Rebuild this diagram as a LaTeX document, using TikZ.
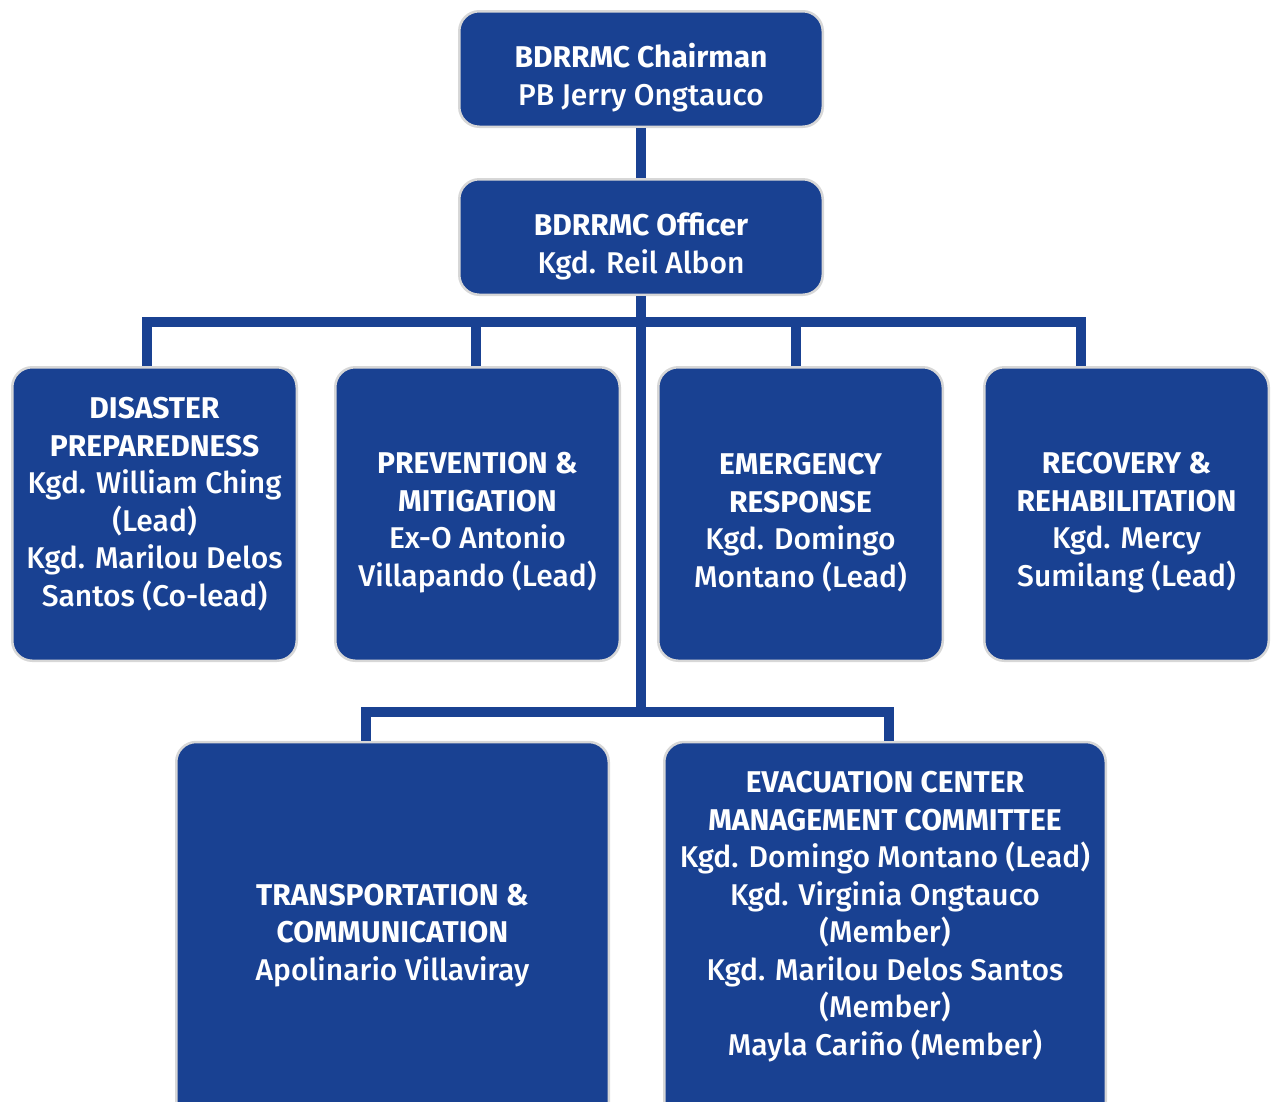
\documentclass[tikz,border=0pt]{standalone}
\usepackage{fontspec}
\setmainfont{Fira Sans}[UprightFont={Fira Sans Medium}, BoldFont={Fira Sans Bold}]
\usetikzlibrary{positioning,calc}
\definecolor{orgblue}{RGB}{25,65,146}
\definecolor{rimgray}{RGB}{215,215,215}
\tikzset{
  unit/.style={rectangle, rounded corners=20, fill=orgblue, draw=rimgray, line width=2.5, inner sep=0},
  unittext/.style={text=white, align=center, inner sep=0, font=\fontsize{30}{37.5}\selectfont},
  link/.style={draw=orgblue, line width=10}
}

\begin{document}
\begin{tikzpicture}[x=1pt, y=-1pt]
  \useasboundingbox (0,0) rectangle (1271,1101);
  \clip (0,0) rectangle (1271,1101);
  % boxes
  \node[unit, minimum width=363.5, minimum height=115.5] (chair) at (641,69) {};
  \node[unit, minimum width=363.5, minimum height=115.5] (officer) at (641,237) {};
  \node[unit, minimum width=284.5, minimum height=293.5] (prep) at (154.5,514) {};
  \node[unit, minimum width=284.5, minimum height=293.5, right=36 of prep] (prev) {};
  \node[unit, minimum width=284.5, minimum height=293.5, right=36 of prev] (resp) {};
  \node[unit, minimum width=284.5, minimum height=293.5, right=39 of resp] (recov) {};
  \node[unit, minimum width=432.5, minimum height=380] (trans) at (392.5,932) {};
  \node[unit, minimum width=441.5, minimum height=380] (evac) at (885,932) {};
  \node[unittext] (chairtxt) at ($(chair)+(0,8.5)$) {\textbf{BDRRMC Chairman}\\PB Jerry Ongtauco};
  \node[unittext] (officertxt) at ($(officer)+(0,9.5)$) {\textbf{BDRRMC Officer}\\Kgd. Reil Albon};
  \node[unittext] (preptxt) at ($(prep)+(0,-10)$) {\textbf{DISASTER}\\\textbf{PREPAREDNESS}\\Kgd. William Ching\\(Lead)\\Kgd. Marilou Delos\\Santos (Co-lead)};
  \node[unittext] (prevtxt) at ($(prev)+(0,8.5)$) {\textbf{PREVENTION \&}\\\textbf{MITIGATION}\\Ex-O Antonio\\Villapando (Lead)};
  \node[unittext] (resptxt) at ($(resp)+(0,8.5)$) {\textbf{EMERGENCY}\\\textbf{RESPONSE}\\Kgd. Domingo\\Montano (Lead)};
  \node[unittext] (recovtxt) at ($(recov)+(0,8.5)$) {\textbf{RECOVERY \&}\\\textbf{REHABILITATION}\\Kgd. Mercy\\Sumilang (Lead)};
  \node[unittext] (transtxt) at ($(trans)+(0,3.5)$) {\textbf{TRANSPORTATION \&}\\\textbf{COMMUNICATION}\\Apolinario Villaviray};
  \node[unittext] (evactxt) at ($(evac)+(0,-15.5)$) {\textbf{EVACUATION CENTER}\\\textbf{MANAGEMENT COMMITTEE}\\Kgd. Domingo Montano (Lead)\\Kgd. Virginia Ongtauco\\(Member)\\Kgd. Marilou Delos Santos\\(Member)\\Mayla Cariño (Member)};
  % connectors
  \coordinate (hub) at ($(officer.south)+(0,26)$);
  \coordinate (hublow) at ($(trans.north)+(0,-29)$);
  \draw[link] (chair.south) -- (officer.north);
  \draw[link] (officer.south) -- (officer.south |- hublow);
  \draw[link] ([xshift=-7.5]prep.north) |- ([xshift=-46]recov.north |- hub) -- ([xshift=-46]recov.north);
  \draw[link] ([xshift=-2]prev.north) -- ([xshift=-2]prev.north |- hub);
  \draw[link] ([xshift=-5]resp.north) -- ([xshift=-5]resp.north |- hub);
  \draw[link] ([xshift=-26.5]trans.north) |- ([xshift=4]evac.north |- hublow) -- ([xshift=4]evac.north);
\end{tikzpicture}
\end{document}
